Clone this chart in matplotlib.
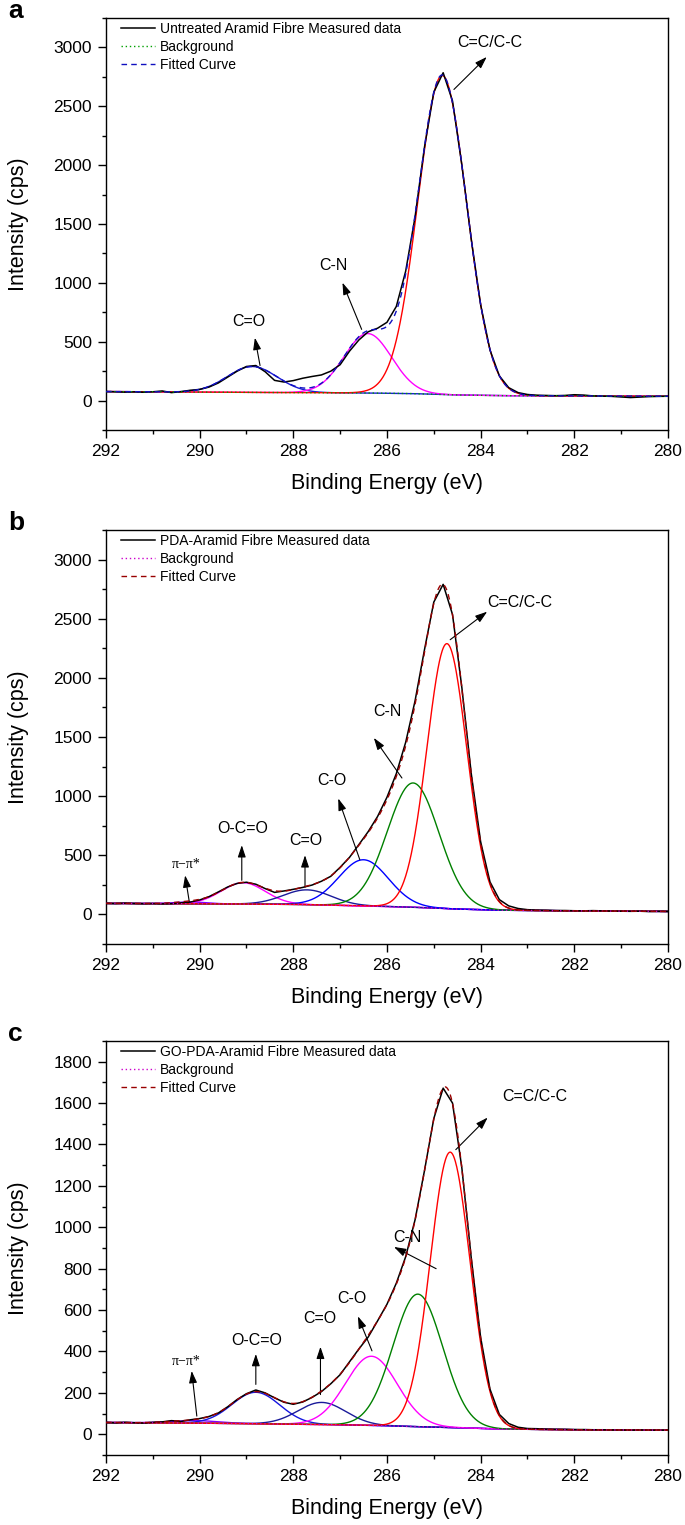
import numpy as np
import matplotlib
matplotlib.use("Agg")
import matplotlib.pyplot as plt
from matplotlib.ticker import MultipleLocator

plt.rcParams["font.family"] = ["Liberation Sans", "DejaVu Sans"]

# binding energy grid of the measured spectra (eV): 292 -> 280, 0.2 eV steps
energy = np.linspace(292, 280, 61)

# measured C1s spectra (cps)
meas_a = [77, 75, 72, 74, 71, 75, 82, 68, 76, 88,
          95, 115, 150, 200, 250, 290, 298, 245, 172, 158,
          170, 190, 205, 218, 250, 305, 420, 515, 585, 615,
          665, 800, 1100, 1560, 2150, 2620, 2785, 2545, 2000, 1370,
          815, 430, 210, 110, 68, 52, 46, 44, 42, 44,
          50, 47, 40, 38, 36, 31, 26, 30, 34, 36,
          37]
meas_b = [93, 91, 95, 92, 90, 92, 89, 91, 98, 104,
          122, 150, 190, 232, 262, 272, 255, 218, 186, 198,
          212, 228, 248, 280, 322, 398, 482, 590, 700, 828,
          990, 1190, 1455, 1805, 2235, 2640, 2790, 2535, 1915, 1190,
          615, 275, 125, 72, 50, 40, 36, 35, 33, 33,
          31, 30, 32, 30, 28, 27, 26, 27, 24, 26,
          25]
meas_c = [57, 55, 58, 56, 54, 58, 60, 66, 62, 70,
          76, 86, 103, 133, 168, 196, 214, 200, 176, 155,
          145, 156, 178, 206, 244, 288, 350, 412, 470, 548,
          628, 730, 858, 1036, 1272, 1525, 1672, 1600, 1285, 852,
          468, 218, 96, 52, 34, 28, 27, 25, 24, 24,
          23, 23, 22, 22, 21, 21, 20, 21, 20, 20,
          20]

# background (Shirley-like) knots
bg_energy = [292, 290, 288, 286.5, 285.5, 284.5, 283.5, 282, 280]
bg_a = [77, 72, 68, 65, 60, 48, 42, 40, 37]
bg_b = [93, 90, 85, 72, 62, 45, 35, 30, 25]
bg_c = [57, 54, 49, 44, 38, 32, 25, 22, 20]

# fitted component peaks: centre (eV), height above background (cps), FWHM (eV)
names_a = ["C=O", "C-N", "C=C/C-C"]
centre_a = [288.88, 286.41, 284.82]
height_a = [220, 505, 2710]
fwhm_a = [1.25, 1.2, 1.22]

names_b = ["π−π*", "O-C=O", "C=O", "C-O", "C-N", "C=C/C-C"]
centre_b = [290.2, 289.07, 287.7, 286.5, 285.44, 284.72]
height_b = [15, 180, 125, 390, 1050, 2240]
fwhm_b = [0.8, 1.1, 1.2, 1.25, 1.3, 1.0]

names_c = ["π−π*", "O-C=O", "C=O", "C-O", "C-N", "C=C/C-C"]
centre_c = [290.1, 288.8, 287.39, 286.33, 285.34, 284.65]
height_c = [12, 152, 107, 334, 640, 1330]
fwhm_c = [1.2, 1.2, 1.2, 1.3, 1.25, 1.0]

samples = ["Untreated Aramid Fibre Measured data",
           "PDA-Aramid Fibre Measured data",
           "GO-PDA-Aramid Fibre Measured data"]

# styling
peak_cols_a = ["#1a1ad6", "#ff00ff", "#ff0000"]
peak_cols_b = ["#8000ff", "#ff00ff", "#1a1a9a", "#0000ff", "#008000", "#ff0000"]
peak_cols_c = ["#8000ff", "#1515e0", "#1a1a9a", "#ff00ff", "#008000", "#ff0000"]
bg_cols = ["#00a000", "#cc00cc", "#cc00cc"]
fit_cols = ["#1010c0", "#990000", "#990000"]

# label text, text centre, arrow head, arrow tail (data coords)
notes_a = [("C=C/C-C", (283.8, 3040), (283.87, 2919), (284.57, 2643)),
           ("C-N", (287.15, 1144), (286.95, 1002), (286.54, 605)),
           ("C=O", (288.96, 675), (288.82, 534), (288.71, 298))]
notes_b = [("C=C/C-C", (283.16, 2636), (283.86, 2559), (284.65, 2322)),
           ("C-N", (286.0, 1712), (286.28, 1492), (285.68, 1153)),
           ("C-O", (287.18, 1130), (287.04, 980), (286.58, 463)),
           ("C=O", (287.73, 627), (287.75, 500), (287.75, 231)),
           ("O-C=O", (289.08, 726), (289.1, 585), (289.1, 288)),
           ("π−π*", (290.29, 424), (290.31, 330), (290.22, 104))]
notes_c = [("C=C/C-C", (282.84, 1630), (283.85, 1530), (284.53, 1375)),
           ("C-N", (285.57, 950), (285.85, 905), (284.95, 800)),
           ("C-O", (286.75, 658), (286.62, 570), (286.32, 403)),
           ("C=O", (287.43, 560), (287.42, 423), (287.42, 192)),
           ("O-C=O", (288.78, 452), (288.8, 388), (288.8, 241)),
           ("π−π*", (290.29, 354), (290.17, 306), (290.06, 88))]


def gauss(x, c, h, w):
    return h * np.exp(-4 * np.log(2) * (x - c) ** 2 / w ** 2)


fig = plt.figure(figsize=(6.85, 15.25), dpi=100)
rects = [[0.1547, 0.718, 0.8204, 0.2702],
         [0.1547, 0.381, 0.8204, 0.2715],
         [0.1547, 0.0459, 0.8204, 0.2715]]

panels = [
    (meas_a, bg_a, centre_a, height_a, fwhm_a, peak_cols_a, notes_a, (-250, 3250), 500),
    (meas_b, bg_b, centre_b, height_b, fwhm_b, peak_cols_b, notes_b, (-250, 3250), 500),
    (meas_c, bg_c, centre_c, height_c, fwhm_c, peak_cols_c, notes_c, (-100, 1900), 200),
]

xf = np.linspace(292, 280, 1201)
for i, (meas, bg, cen, hgt, fw, pcols, notes, ylim, ystep) in enumerate(panels):
    ax = fig.add_axes(rects[i])
    base = np.interp(xf, bg_energy[::-1], bg[::-1])
    total = base.copy()
    for c, h, w, col in zip(cen, hgt, fw, pcols):
        comp = gauss(xf, c, h, w)
        total += comp
        ax.plot(xf, base + comp, color=col, lw=1.0, zorder=2)
    l1, = ax.plot(energy, meas, color="black", lw=1.1, zorder=3)
    l2, = ax.plot(bg_energy, bg, color=bg_cols[i], lw=1.0, ls=(0, (1, 2)), zorder=4)
    l3, = ax.plot(xf, total, color=fit_cols[i], lw=1.0, ls=(0, (4, 3)), zorder=5)
    ax.legend([l1, l2, l3], [samples[i], "Background", "Fitted Curve"],
              loc="upper left", bbox_to_anchor=(0.02, 1.0), frameon=False,
              fontsize=10, handlelength=2.4, handletextpad=0.35,
              labelspacing=0.28, borderpad=0.3, borderaxespad=0)

    for txt, tpos, head, tail in notes:
        if txt.startswith("π"):
            ax.text(*tpos, txt, ha="center", va="center", fontsize=10,
                    family=["Liberation Serif", "DejaVu Serif"])
        else:
            ax.text(*tpos, txt, ha="center", va="center", fontsize=11.5)
        ax.annotate("", xy=head, xytext=tail,
                    arrowprops=dict(arrowstyle="-|>,head_length=0.6,head_width=0.2",
                                    color="black", lw=0.8, shrinkA=0, shrinkB=0,
                                    mutation_scale=12))

    ax.set_xlim(292, 280)
    ax.set_ylim(*ylim)
    ax.xaxis.set_major_locator(MultipleLocator(2))
    ax.xaxis.set_minor_locator(MultipleLocator(1))
    ax.yaxis.set_major_locator(MultipleLocator(ystep))
    ax.yaxis.set_minor_locator(MultipleLocator(ystep / 2))
    ax.tick_params(which="major", direction="out", length=6, width=1.0,
                   labelsize=12.5, pad=4, top=False, right=False)
    ax.tick_params(which="minor", direction="out", length=3, width=1.0,
                   top=False, right=False)
    for sp in ax.spines.values():
        sp.set_linewidth(1.0)
    ax.set_xlabel("Binding Energy (eV)", fontsize=15.5)
    ax.set_ylabel("Intensity (cps)", fontsize=15.5)
    ax.xaxis.set_label_coords(0.5, -0.105)
    ax.yaxis.set_label_coords(-0.137, 0.5)

for lab, y in zip(["a", "b", "c"], [18, 530, 1041]):
    fig.text(0.012, 1 - y / 1525, lab, fontsize=19, fontweight="bold",
             va="baseline", ha="left")

fig.savefig("out.png", dpi=100)
